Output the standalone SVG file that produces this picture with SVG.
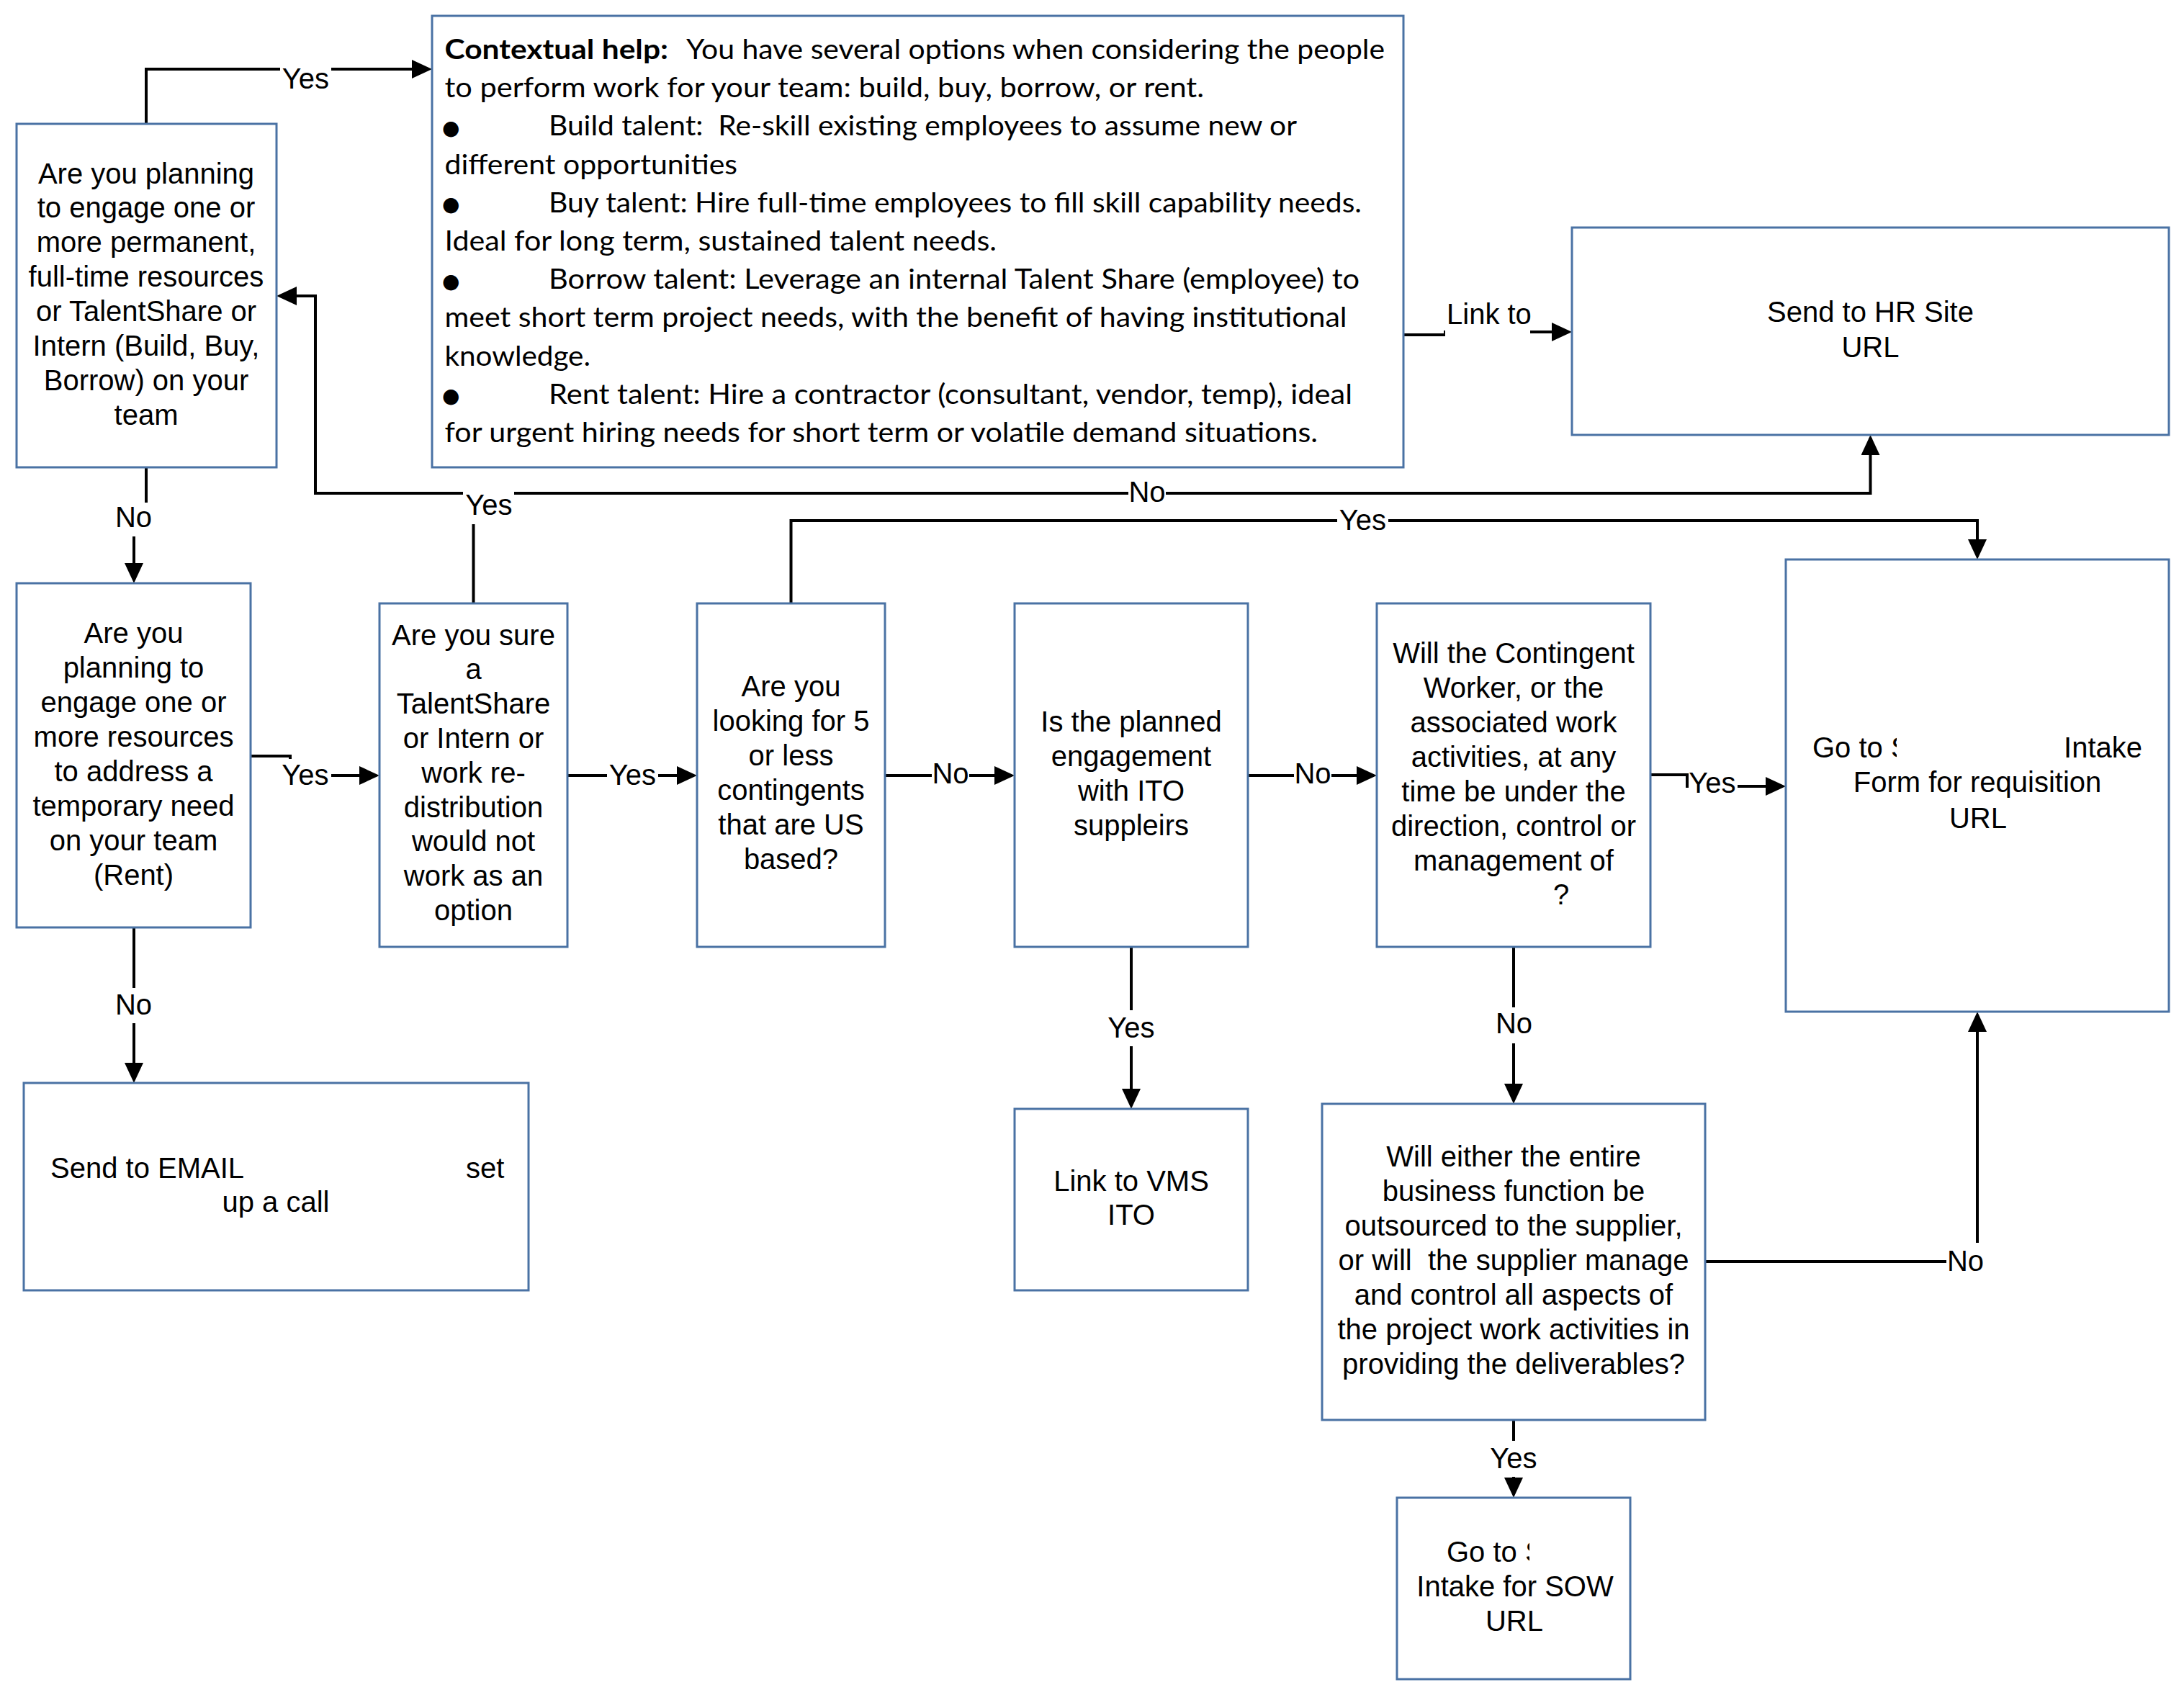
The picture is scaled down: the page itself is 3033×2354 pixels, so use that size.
<svg xmlns="http://www.w3.org/2000/svg" width="3033" height="2354" viewBox="0 0 3033 2354">
<defs>
<style>
.box{fill:#fff;stroke:#4A72A4;stroke-width:3}
.n{font-family:"Liberation Sans",Arial,sans-serif;font-size:40px;fill:#000;text-anchor:middle}
.s{font-family:"Liberation Sans",Arial,sans-serif;font-size:40px;fill:#000;text-anchor:start}
.e{font-family:"Liberation Sans",Arial,sans-serif;font-size:40px;fill:#000;text-anchor:end}
.ch{font-family:Lato,"Open Sans",sans-serif;font-size:38.5px;fill:#000}
.chb{font-family:Lato,"Open Sans",sans-serif;font-size:38.5px;font-weight:bold;fill:#000}
.bul{font-family:"DejaVu Sans",sans-serif;font-size:28px;fill:#000}
.c{fill:none;stroke:#000;stroke-width:4;marker-end:url(#ah)}
.lb{fill:#fff;stroke:none}
</style>
<marker id="ah" markerUnits="userSpaceOnUse" markerWidth="28" markerHeight="26" refX="24" refY="13" orient="auto">
<path d="M0,0 L28,13 L0,26 Z" fill="#000"/>
</marker>
<clipPath id="clipG"><rect x="2480" y="1000" width="154" height="70"/></clipPath>
<clipPath id="clipK"><rect x="1940" y="2120" width="184" height="70"/></clipPath>
</defs>
<rect x="0" y="0" width="3033" height="2354" fill="#fff"/>

<g id="connectors">
<path class="c" d="M203,172 V96 H596"/>
<path class="c" d="M203,649 V720 H186 V806"/>
<path class="c" d="M348,1050 H403 V1077 H523"/>
<path class="c" d="M657.5,838 V685 H438 V411 H388"/>
<path class="c" d="M657.5,685 H2597.5 V608"/>
<path class="c" d="M1098.5,838 V723 H2746 V773"/>
<path class="c" d="M788,1077 H964"/>
<path class="c" d="M1229,1077 H1405"/>
<path class="c" d="M1733,1077 H1908"/>
<path class="c" d="M2292,1076 H2343 V1092 H2476"/>
<path class="c" d="M1571,1315 V1536"/>
<path class="c" d="M186,1288 V1500"/>
<path class="c" d="M2102,1315 V1529"/>
<path class="c" d="M2368,1752 H2746 V1409"/>
<path class="c" d="M2102,1972 V2076"/>
<path class="c" d="M1949,465 H2007 V461 H2179"/>
<g id="labels">
<rect class="lb" x="389" y="91" width="71" height="37"/><text class="n" x="424.5" y="123">Yes</text>
<rect class="lb" x="159" y="698" width="53" height="47"/><text class="n" x="185.5" y="732">No</text>
<rect class="lb" x="388" y="1054" width="72" height="40"/><text class="n" x="424" y="1090">Yes</text>
<rect class="lb" x="643" y="681" width="71" height="47"/><text class="n" x="679" y="715">Yes</text>
<rect class="lb" x="1567" y="668" width="52" height="30"/><text class="n" x="1593" y="697">No</text>
<rect class="lb" x="1857" y="705" width="71" height="33"/><text class="n" x="1892.5" y="736">Yes</text>
<rect class="lb" x="843" y="1057" width="71" height="35"/><text class="n" x="878.5" y="1090">Yes</text>
<rect class="lb" x="1294" y="1058" width="52" height="32"/><text class="n" x="1320" y="1088">No</text>
<rect class="lb" x="1797" y="1058" width="52" height="32"/><text class="n" x="1823" y="1088">No</text>
<rect class="lb" x="2345" y="1070" width="68" height="34"/><text class="n" x="2378" y="1101">Yes</text>
<rect class="lb" x="1535" y="1403" width="72" height="50"/><text class="n" x="1571" y="1441">Yes</text>
<rect class="lb" x="159" y="1372" width="53" height="49"/><text class="n" x="185.5" y="1408.6">No</text>
<rect class="lb" x="2076" y="1399" width="53" height="50"/><text class="n" x="2102.5" y="1435">No</text>
<rect class="lb" x="2703" y="1726" width="53" height="42"/><text class="n" x="2729.5" y="1764.5">No</text>
<rect class="lb" x="2066" y="2001" width="72" height="50"/><text class="n" x="2102" y="2038.5">Yes</text>
<rect class="lb" x="2007" y="413" width="118" height="56"/><text class="s" x="2009" y="450">Link to</text>
</g>
</g>

<g id="node-permanent">
<rect class="box" x="23" y="172" width="361" height="477"/>
<text class="n" x="203" y="254.5">Are you planning</text>
<text class="n" x="203" y="302.4">to engage one or</text>
<text class="n" x="203" y="350.3">more permanent,</text>
<text class="n" x="203" y="398.2">full-time resources</text>
<text class="n" x="203" y="446.1">or TalentShare or</text>
<text class="n" x="203" y="494">Intern (Build, Buy,</text>
<text class="n" x="203" y="541.9">Borrow) on your</text>
<text class="n" x="203" y="589.8">team</text>
</g>

<g id="node-contextual-help">
<rect class="box" x="600" y="22" width="1349" height="627"/>
<text class="chb" x="617.5" y="82" textLength="310.5" lengthAdjust="spacingAndGlyphs">Contextual help:</text>
<text class="ch" x="953" y="82" textLength="970" lengthAdjust="spacingAndGlyphs">You have several options when considering the people</text>
<text class="ch" x="617.5" y="135.2" textLength="1054.5" lengthAdjust="spacingAndGlyphs">to perform work for your team: build, buy, borrow, or rent.</text>
<text class="bul" x="614" y="187">●</text>
<text class="ch" x="762" y="188.4" textLength="1039" lengthAdjust="spacingAndGlyphs" xml:space="preserve">Build talent:  Re-skill existing employees to assume new or</text>
<text class="ch" x="617.5" y="241.6" textLength="406.5" lengthAdjust="spacingAndGlyphs">different opportunities</text>
<text class="bul" x="614" y="293.4">●</text>
<text class="ch" x="762" y="294.8" textLength="1129" lengthAdjust="spacingAndGlyphs">Buy talent: Hire full-time employees to fill skill capability needs.</text>
<text class="ch" x="617.5" y="348" textLength="766.5" lengthAdjust="spacingAndGlyphs">Ideal for long term, sustained talent needs.</text>
<text class="bul" x="614" y="399.8">●</text>
<text class="ch" x="762" y="401.2" textLength="1126" lengthAdjust="spacingAndGlyphs">Borrow talent: Leverage an internal Talent Share (employee) to</text>
<text class="ch" x="617.5" y="454.4" textLength="1253" lengthAdjust="spacingAndGlyphs">meet short term project needs, with the benefit of having institutional</text>
<text class="ch" x="617.5" y="507.6" textLength="202.5" lengthAdjust="spacingAndGlyphs">knowledge.</text>
<text class="bul" x="614" y="559.4">●</text>
<text class="ch" x="762" y="560.8" textLength="1116" lengthAdjust="spacingAndGlyphs">Rent talent: Hire a contractor (consultant, vendor, temp), ideal</text>
<text class="ch" x="617.5" y="614" textLength="1212.5" lengthAdjust="spacingAndGlyphs">for urgent hiring needs for short term or volatile demand situations.</text>
</g>

<g id="node-hr-site">
<rect class="box" x="2183" y="316" width="829" height="288"/>
<text class="n" x="2597.5" y="447">Send to HR Site</text>
<text class="n" x="2597.5" y="495.5">URL</text>
</g>

<g id="node-rent">
<rect class="box" x="23" y="810" width="325" height="478"/>
<text class="n" x="185.5" y="893">Are you</text>
<text class="n" x="185.5" y="941">planning to</text>
<text class="n" x="185.5" y="989">engage one or</text>
<text class="n" x="185.5" y="1037">more resources</text>
<text class="n" x="185.5" y="1085">to address a</text>
<text class="n" x="185.5" y="1133">temporary need</text>
<text class="n" x="185.5" y="1181">on your team</text>
<text class="n" x="185.5" y="1229">(Rent)</text>
</g>

<g id="node-are-you-sure">
<rect class="box" x="527" y="838" width="261" height="477"/>
<text class="n" x="657.5" y="895.5">Are you sure</text>
<text class="n" x="657.5" y="943.3">a</text>
<text class="n" x="657.5" y="991.1">TalentShare</text>
<text class="n" x="657.5" y="1038.9">or Intern or</text>
<text class="n" x="657.5" y="1086.7">work re-</text>
<text class="n" x="657.5" y="1134.5">distribution</text>
<text class="n" x="657.5" y="1182.3">would not</text>
<text class="n" x="657.5" y="1230.1">work as an</text>
<text class="n" x="657.5" y="1277.9">option</text>
</g>

<g id="node-five-or-less">
<rect class="box" x="968" y="838" width="261" height="477"/>
<text class="n" x="1098.5" y="967">Are you</text>
<text class="n" x="1098.5" y="1015">looking for 5</text>
<text class="n" x="1098.5" y="1063">or less</text>
<text class="n" x="1098.5" y="1111">contingents</text>
<text class="n" x="1098.5" y="1159">that are US</text>
<text class="n" x="1098.5" y="1207">based?</text>
</g>

<g id="node-ito">
<rect class="box" x="1409" y="838" width="324" height="477"/>
<text class="n" x="1571" y="1016">Is the planned</text>
<text class="n" x="1571" y="1064">engagement</text>
<text class="n" x="1571" y="1112">with ITO</text>
<text class="n" x="1571" y="1160">suppleirs</text>
</g>

<g id="node-contingent-worker">
<rect class="box" x="1912" y="838" width="380" height="477"/>
<text class="n" x="2102" y="921">Will the Contingent</text>
<text class="n" x="2102" y="969">Worker, or the</text>
<text class="n" x="2102" y="1017">associated work</text>
<text class="n" x="2102" y="1065">activities, at any</text>
<text class="n" x="2102" y="1113">time be under the</text>
<text class="n" x="2102" y="1161">direction, control or</text>
<text class="n" x="2102" y="1209">management of</text>
<text class="s" x="2157" y="1256">?</text>
</g>

<g id="node-intake-form">
<rect class="box" x="2480" y="777" width="532" height="628"/>
<text class="s" x="2517" y="1051.6" clip-path="url(#clipG)">Go to S</text>
<text class="e" x="2975" y="1051.6">Intake</text>
<text class="n" x="2746" y="1099.5">Form for requisition</text>
<text class="n" x="2747" y="1150">URL</text>
</g>

<g id="node-email">
<rect class="box" x="33" y="1504" width="701" height="288"/>
<text class="s" x="70" y="1635.5">Send to EMAIL</text>
<text class="s" x="647" y="1635.5">set</text>
<text class="n" x="383" y="1683">up a call</text>
</g>

<g id="node-vms">
<rect class="box" x="1409" y="1540" width="324" height="252"/>
<text class="n" x="1571" y="1653.5">Link to VMS</text>
<text class="n" x="1571" y="1701">ITO</text>
</g>

<g id="node-outsourced">
<rect class="box" x="1836" y="1533" width="532" height="439"/>
<text class="n" x="2102" y="1620">Will either the entire</text>
<text class="n" x="2102" y="1668">business function be</text>
<text class="n" x="2102" y="1716">outsourced to the supplier,</text>
<text class="n" x="2102" y="1764" xml:space="preserve">or will  the supplier manage</text>
<text class="n" x="2102" y="1812">and control all aspects of</text>
<text class="n" x="2102" y="1860">the project work activities in</text>
<text class="n" x="2102" y="1908">providing the deliverables?</text>
</g>

<g id="node-sow">
<rect class="box" x="1940" y="2080" width="324" height="252"/>
<text class="s" x="2009" y="2169" clip-path="url(#clipK)">Go to S</text>
<text class="n" x="2104" y="2217">Intake for SOW</text>
<text class="n" x="2103" y="2265">URL</text>
</g>
</svg>
